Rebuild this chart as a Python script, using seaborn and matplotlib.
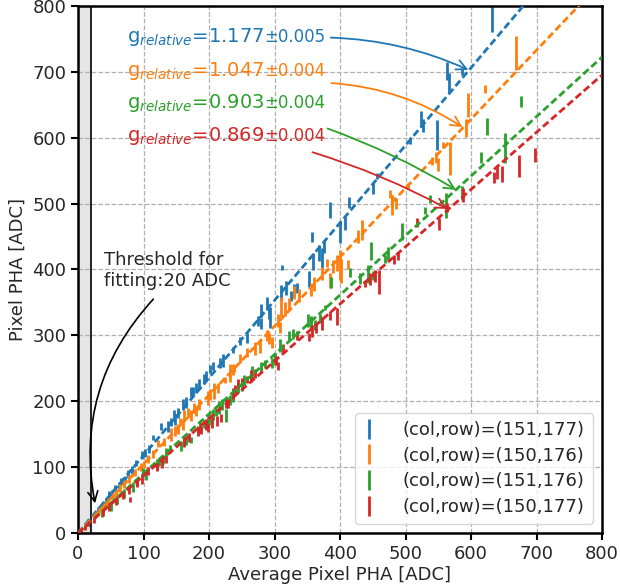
import numpy as np
import pandas as pd
import matplotlib
matplotlib.use("Agg")
import matplotlib.pyplot as plt
from matplotlib.lines import Line2D
import seaborn as sns

# ---------------- data ----------------
labels = ["(col,row)=(151,177)", "(col,row)=(150,176)",
          "(col,row)=(151,176)", "(col,row)=(150,177)"]
gains = [1.177, 1.047, 0.903, 0.869]
gain_errs = ["0.005", "0.004", "0.004", "0.004"]

blue_x = [5, 10, 15, 30, 38, 42, 48, 52, 56, 62, 66, 72, 77, 83, 89, 97, 102, 108, 114, 127,
          137, 142, 146, 148, 152, 160, 165, 172, 176, 180, 185, 192, 196, 202, 206, 217, 222,
          237, 247, 258, 275, 280, 280, 288, 291, 293, 310, 311, 318, 325, 330, 334, 352, 357,
          359, 368, 373, 376, 385, 400, 408, 414, 451, 456, 507, 523, 527, 548, 563, 566, 586, 632]
blue_y = [6, 12, 18, 36, 44, 48, 58, 60, 68, 72, 78, 82, 90, 96, 106, 118, 122, 128, 145, 162,
          162, 168, 178, 172, 182, 195, 198, 214, 216, 220, 226, 234, 238, 249, 254, 258, 262,
          278, 291, 296, 322, 318, 338, 348, 333, 327, 365, 403, 372, 360, 368, 372, 385, 449,
          412, 425, 418, 435, 490, 457, 470, 502, 523, 542, 596, 628, 618, 604, 701, 683, 700, 785]
blue_e = [2, 2, 3, 4, 5, 5, 5, 5, 5, 5, 5, 5, 6, 6, 5, 6, 6, 6, 4, 5,
          8, 6, 8, 8, 8, 8, 8, 8, 6, 8, 8, 8, 8, 6, 6, 8, 10,
          4, 6, 7, 8, 8, 10, 10, 8, 16, 12, 4, 10, 8, 10, 8, 12, 8,
          13, 12, 15, 10, 12, 17, 10, 8, 8, 4, 5, 12, 10, 23, 14, 15, 5, 25]

orange_x = [5, 10, 15, 32, 42, 46, 53, 58, 64, 70, 78, 87, 96, 100, 107, 114, 122, 132, 142,
            148, 153, 155, 160, 162, 168, 172, 177, 180, 184, 198, 202, 207, 213, 224, 232,
            236, 238, 247, 258, 270, 278, 288, 292, 296, 305, 308, 310, 316, 322, 330, 338,
            355, 360, 372, 380, 385, 390, 396, 400, 402, 412, 428, 433, 476, 479, 480, 486,
            504, 540, 547, 549, 557, 568, 592, 595, 621, 668]
orange_y = [5, 11, 16, 34, 44, 48, 56, 60, 68, 74, 82, 92, 100, 104, 112, 120, 136, 138, 150,
            155, 158, 168, 165, 178, 182, 178, 190, 185, 195, 205, 210, 215, 220, 232, 243,
            248, 250, 265, 274, 280, 284, 300, 295, 289, 323, 312, 343, 340, 348, 365, 360,
            370, 378, 394, 410, 383, 405, 410, 407, 398, 407, 450, 460, 515, 498, 505, 500,
            527, 565, 570, 560, 589, 568, 615, 650, 674, 729]
orange_e = [2, 2, 3, 4, 5, 5, 5, 5, 6, 6, 6, 5, 6, 6, 6, 6, 5, 6, 10,
            8, 8, 6, 8, 8, 8, 8, 8, 8, 8, 10, 8, 12, 8, 5, 14,
            8, 5, 7, 7, 10, 10, 8, 8, 8, 10, 8, 15, 10, 8, 10, 10,
            10, 10, 10, 6, 11, 10, 12, 23, 18, 7, 10, 15, 6, 15, 8, 8,
            5, 6, 8, 10, 5, 25, 14, 18, 6, 26]

green_x = [5, 10, 15, 36, 50, 60, 70, 84, 90, 99, 104, 120, 124, 130, 135, 140, 158, 165, 172,
           187, 192, 198, 200, 206, 210, 215, 220, 226, 228, 232, 237, 245, 250, 253, 266, 280,
           285, 296, 301, 308, 322, 328, 351, 356, 362, 369, 377, 387, 415, 430, 443, 447, 450,
           469, 473, 494, 530, 537, 562, 587, 616, 624, 652, 677]
green_y = [4, 9, 14, 30, 40, 50, 60, 70, 78, 92, 86, 105, 108, 112, 122, 127, 132, 140, 141,
           160, 165, 168, 172, 180, 184, 190, 195, 178, 198, 202, 207, 220, 224, 232, 245, 252,
           256, 258, 264, 285, 300, 302, 323, 320, 316, 326, 342, 380, 395, 386, 393, 428, 391,
           416, 424, 458, 490, 507, 497, 516, 570, 617, 584, 655]
green_e = [2, 2, 3, 6, 6, 6, 7, 8, 6, 6, 5, 8, 6, 7, 7, 6, 8, 6, 5,
           8, 6, 8, 8, 8, 6, 10, 8, 10, 8, 8, 8, 8, 8, 8, 9, 7,
           6, 8, 9, 10, 7, 7, 10, 10, 8, 7, 4, 8, 7, 8, 14, 14, 7,
           6, 10, 13, 5, 6, 19, 11, 8, 13, 23, 9]

red_x = [5, 10, 15, 25, 38, 48, 58, 68, 78, 79, 90, 98, 107, 121, 128, 135, 162, 170, 183,
         188, 195, 198, 205, 212, 218, 226, 229, 237, 240, 245, 250, 258, 264, 270, 303, 305,
         313, 334, 352, 357, 364, 372, 385, 395, 438, 446, 453, 460, 482, 488, 517, 551, 563,
         588, 635, 640, 647, 674, 697]
red_y = [4, 8, 13, 20, 32, 40, 48, 58, 66, 51, 76, 82, 94, 100, 106, 112, 138, 145, 155,
         157, 165, 160, 168, 170, 175, 198, 196, 212, 218, 227, 230, 233, 238, 242, 262, 253,
         280, 300, 297, 306, 311, 318, 330, 328, 378, 385, 390, 381, 415, 420, 471, 469, 494,
         513, 540, 548, 545, 557, 574]
red_e = [2, 4, 3, 5, 6, 6, 6, 6, 7, 4, 6, 7, 6, 6, 7, 5, 7, 7, 8,
         6, 8, 6, 8, 8, 6, 8, 6, 8, 6, 7, 6, 6, 9, 7, 7, 6,
         7, 7, 6, 9, 8, 10, 7, 13, 5, 9, 9, 18, 7, 6, 7, 9, 7,
         11, 8, 10, 12, 17, 11]

series_x = [blue_x, orange_x, green_x, red_x]
series_y = [blue_y, orange_y, green_y, red_y]
series_e = [blue_e, orange_e, green_e, red_e]

x_ticks = [0, 100, 200, 300, 400, 500, 600, 700, 800]
y_ticks = [0, 100, 200, 300, 400, 500, 600, 700, 800]
threshold = 20

# ---------------- style ----------------
sns.set_style("ticks")
plt.rcParams['font.family'] = ['DejaVu Sans']
palette = sns.color_palette("tab10", 4)

fig = plt.figure(figsize=(6.2, 5.88), dpi=100)
ax = fig.add_axes([78 / 620, 1 - 533 / 588, (602 - 78) / 620, (533 - 6) / 588])

ax.set_xlim(0, 800)
ax.set_ylim(0, 800)
ax.set_axisbelow(True)
ax.grid(True, ls="--", color="#b0b0b0", lw=0.9)

ax.axvspan(0, threshold, facecolor="#e5e5e5", edgecolor="none", zorder=0.5)
ax.axvline(threshold, color="black", lw=1.2, zorder=1)

for i in range(4):
    ax.errorbar(series_x[i], series_y[i], yerr=series_e[i], fmt="none",
                ecolor=palette[i], elinewidth=2, capsize=0, zorder=2)

# fit lines
xs_line = [0, 800]
for i in range(4):
    df = pd.DataFrame({"x": xs_line, "y": [gains[i] * v for v in xs_line]})
    sns.lineplot(data=df, x="x", y="y", ax=ax, color=palette[i], lw=2,
                 linestyle=(0, (2.6, 1.3)), zorder=3, legend=False)

ax.set_xticks(x_ticks)
ax.set_yticks(y_ticks)
ax.tick_params(labelsize=13, width=1.5, length=5, direction="out", color="black")
for sp in ax.spines.values():
    sp.set_linewidth(1.8)
    sp.set_color("black")
ax.set_xlabel("Average Pixel PHA [ADC]", fontsize=13, labelpad=2)
ax.set_ylabel("Pixel PHA [ADC]", fontsize=13, labelpad=4)

handles = [Line2D([], [], color=palette[i], marker="|", linestyle="none",
                  markersize=14, markeredgewidth=2) for i in range(4)]
leg = ax.legend(handles, labels, loc="lower right", fontsize=13, frameon=True,
                handlelength=0.6, handletextpad=1.6, borderpad=0.45, labelspacing=0.42,
                borderaxespad=0.5)

# gain annotations
text_y = [745, 694, 645, 595]
arrow_start = [(386, 752), (387, 683), (381, 614), (358, 578)]
arrow_end = [(596, 703), (587, 616), (577, 521), (564, 492)]
rads = [-0.1, -0.13, -0.05, -0.05]
fig.canvas.draw()
renderer = fig.canvas.get_renderer()
for i in range(4):
    t1 = ax.text(75, text_y[i], "g$_{relative}$=" + f"{gains[i]:.3f}", color=palette[i],
                 fontsize=14, ha="left", va="baseline")
    bb = t1.get_window_extent(renderer)
    disp = ax.transData.transform((75, text_y[i]))
    xd, yd = ax.transData.inverted().transform((bb.x1, disp[1]))
    ax.text(xd, text_y[i], "\u00b1" + gain_errs[i], color=palette[i], fontsize=12,
            ha="left", va="baseline")
    ax.annotate("", xy=arrow_end[i], xytext=arrow_start[i],
                arrowprops=dict(arrowstyle="->", color=palette[i], lw=1.3,
                                connectionstyle=f"arc3,rad={rads[i]}", mutation_scale=18,
                                shrinkA=0, shrinkB=0))

ax.text(40, 428, "Threshold for\nfitting:20 ADC", fontsize=13, ha="left", va="top")
ax.annotate("", xy=(26, 45), xytext=(115, 355),
            arrowprops=dict(arrowstyle="->", color="black", lw=1.2,
                            connectionstyle="arc3,rad=0.25", mutation_scale=18,
                            shrinkA=0, shrinkB=0))

fig.savefig("out.png", dpi=100)
